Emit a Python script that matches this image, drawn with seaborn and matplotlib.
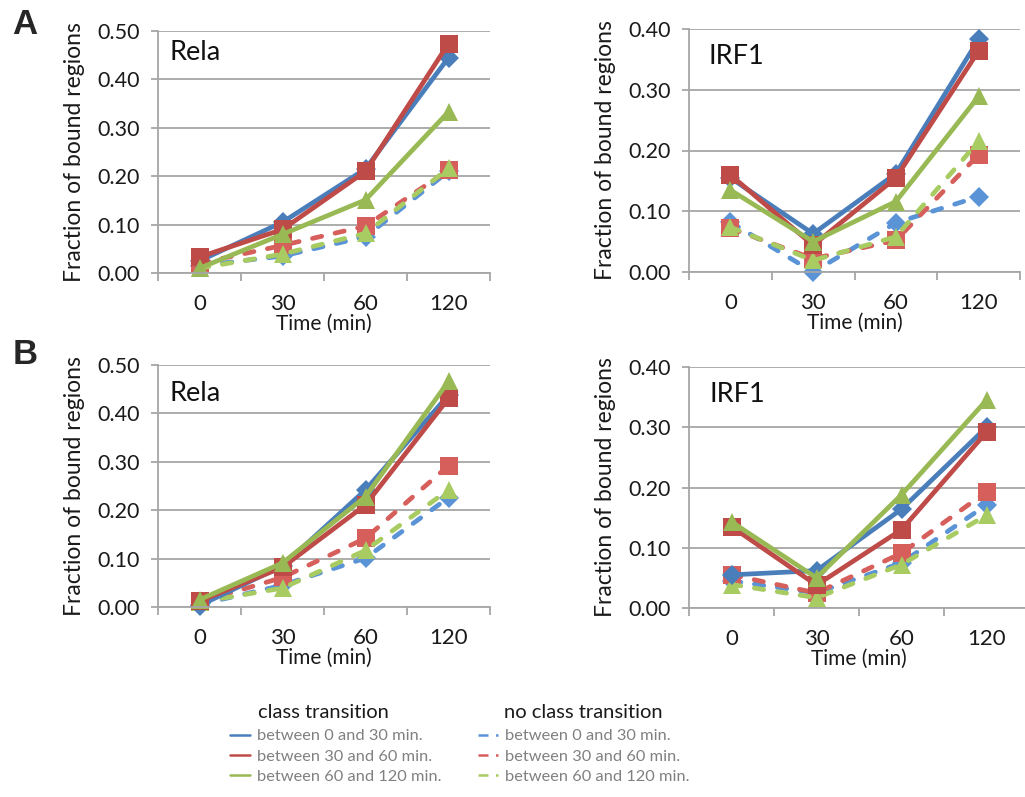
import matplotlib
matplotlib.use("Agg")
import matplotlib.pyplot as plt
from matplotlib.lines import Line2D
import seaborn as sns

# ---------------- data ----------------
times = ["0", "30", "60", "120"]

# Panel A - Rela
a_rela_c_0_30 = [0.025, 0.105, 0.215, 0.445]
a_rela_c_30_60 = [0.033, 0.090, 0.210, 0.474]
a_rela_c_60_120 = [0.010, 0.080, 0.151, 0.333]
a_rela_nc_0_30 = [0.015, 0.035, 0.075, 0.210]
a_rela_nc_30_60 = [0.020, 0.057, 0.097, 0.213]
a_rela_nc_60_120 = [0.010, 0.039, 0.082, 0.216]

# Panel A - IRF1
a_irf_c_0_30 = [0.155, 0.063, 0.162, 0.383]
a_irf_c_30_60 = [0.160, 0.044, 0.155, 0.364]
a_irf_c_60_120 = [0.135, 0.050, 0.116, 0.289]
a_irf_nc_0_30 = [0.082, 0.000, 0.081, 0.124]
a_irf_nc_30_60 = [0.072, 0.022, 0.052, 0.193]
a_irf_nc_60_120 = [0.074, 0.019, 0.058, 0.215]

# Panel B - Rela
b_rela_c_0_30 = [0.003, 0.085, 0.242, 0.438]
b_rela_c_30_60 = [0.012, 0.082, 0.211, 0.431]
b_rela_c_60_120 = [0.015, 0.091, 0.228, 0.466]
b_rela_nc_0_30 = [0.005, 0.045, 0.101, 0.226]
b_rela_nc_30_60 = [0.010, 0.061, 0.142, 0.292]
b_rela_nc_60_120 = [0.010, 0.039, 0.117, 0.242]

# Panel B - IRF1
b_irf_c_0_30 = [0.055, 0.062, 0.164, 0.300]
b_irf_c_30_60 = [0.135, 0.038, 0.130, 0.292]
b_irf_c_60_120 = [0.143, 0.050, 0.188, 0.345]
b_irf_nc_0_30 = [0.045, 0.025, 0.075, 0.171]
b_irf_nc_30_60 = [0.055, 0.025, 0.091, 0.193]
b_irf_nc_60_120 = [0.039, 0.017, 0.072, 0.154]

legend_labels = ["between 0 and 30 min.", "between 30 and 60 min.", "between 60 and 120 min."]

# ---------------- style ----------------
sns.set_theme(style="white")
plt.rcParams["font.family"] = ["Lato", "DejaVu Sans"]

W, H = 1025, 797
fig = plt.figure(figsize=(W / 100, H / 100), dpi=100)

BLUE, RED, GREEN = "#4A7EBB", "#BE4B48", "#98B954"
LBLUE, LRED, LGREEN = "#5A93D6", "#D65E5B", "#A8CB62"
GRID = "#A6A6A6"
TXT = "#1a1a1a"

# order of drawing: dashed (no class transition) first, then solid
styles = [
    (LBLUE, "D", 9.8, "dash"), (LRED, "s", 13.5, "dash"), (LGREEN, "^", 13.5, "dash"),
    (BLUE, "D", 9.8, "solid"), (RED, "s", 13.5, "solid"), (GREEN, "^", 13.5, "solid"),
]
LW = 3.4


def px_axes(l, t, r, b):
    return fig.add_axes([l / W, 1 - b / H, (r - l) / W, (b - t) / H])


def panel(ax, vals, ymax, name, name_pos):
    for v, (col, mk, ms, ls) in zip(vals, styles):
        sns.pointplot(x=times, y=v, order=times, color=col, marker=mk,
                      errorbar=None, markersize=ms, linewidth=LW,
                      markeredgewidth=0, clip_on=False, ax=ax)
        line = ax.lines[-1]
        line.set_linewidth(LW)
        line.set_markersize(ms)
        line.set_markeredgewidth(0)
        line.set_solid_capstyle("round")
        if ls == "dash":
            line.set_linestyle((0, (2.0, 2.9)))
            line.set_dash_capstyle("round")
    ax.set_xlim(-0.5, 3.5)
    ax.set_ylim(0, ymax)
    ax.set_yticks([i / 10 for i in range(int(round(ymax * 10)) + 1)])
    ax.yaxis.set_major_formatter(matplotlib.ticker.FormatStrFormatter("%.2f"))
    ax.yaxis.grid(True, color=GRID, linewidth=1.3)
    ax.xaxis.grid(False)
    ax.set_axisbelow(True)
    for s in ["top", "right"]:
        ax.spines[s].set_visible(False)
    for s in ["left", "bottom"]:
        ax.spines[s].set_color(GRID)
        ax.spines[s].set_linewidth(1.3)
    ax.tick_params(axis="y", which="major", length=5, width=1.3, color=GRID,
                   labelsize=15.5, pad=8, labelcolor=TXT, left=True)
    ax.tick_params(axis="x", which="major", length=0, labelsize=16, pad=15,
                   labelcolor=TXT)
    ax.set_xticks([-0.5, 0.5, 1.5, 2.5, 3.5], minor=True)
    ax.tick_params(axis="x", which="minor", length=6, width=1.3, color=GRID,
                   direction="out", bottom=True)
    ax.set_xlabel("Time (min)", fontsize=15, labelpad=0, color=TXT)
    ax.set_ylabel("Fraction of bound regions", fontsize=16.5, labelpad=9, color=TXT)
    ax.text(name_pos[0], name_pos[1], name, transform=ax.transAxes, fontsize=19.5,
            va="center", ha="left", color="#111111")


axA1 = px_axes(158, 31, 490, 273)
axA2 = px_axes(689, 29, 1020, 272)
axB1 = px_axes(158, 365, 490, 607)
axB2 = px_axes(689, 367, 1029, 608)

panel(axA1, [a_rela_nc_0_30, a_rela_nc_30_60, a_rela_nc_60_120,
             a_rela_c_0_30, a_rela_c_30_60, a_rela_c_60_120], 0.5, "Rela", (0.036, 0.913))
panel(axA2, [a_irf_nc_0_30, a_irf_nc_30_60, a_irf_nc_60_120,
             a_irf_c_0_30, a_irf_c_30_60, a_irf_c_60_120], 0.4, "IRF1", (0.06, 0.885))
panel(axB1, [b_rela_nc_0_30, b_rela_nc_30_60, b_rela_nc_60_120,
             b_rela_c_0_30, b_rela_c_30_60, b_rela_c_60_120], 0.5, "Rela", (0.036, 0.884))
panel(axB2, [b_irf_nc_0_30, b_irf_nc_30_60, b_irf_nc_60_120,
             b_irf_c_0_30, b_irf_c_30_60, b_irf_c_60_120], 0.4, "IRF1", (0.06, 0.884))

# panel letters
fig.text(25 / W, 1 - 25 / H, "A", fontsize=25, fontweight="bold",
         family=["Liberation Sans", "DejaVu Sans"], ha="center", va="center")
fig.text(25 / W, 1 - 355 / H, "B", fontsize=25, fontweight="bold",
         family=["Liberation Sans", "DejaVu Sans"], ha="center", va="center")

# legend
fig.text(323 / W, 1 - 712 / H, "class transition", fontsize=14.5, ha="center",
         va="center", color=TXT)
fig.text(583 / W, 1 - 712 / H, "no class transition", fontsize=14.5, ha="center",
         va="center", color=TXT)

solid_h = [Line2D([], [], color=c, lw=1.8, ls="-") for c in (BLUE, RED, GREEN)]
dash_h = [Line2D([], [], color=c, lw=1.8, ls=(0, (4, 3))) for c in (LBLUE, LRED, LGREEN)]
for handles, x0 in ((solid_h, 230), (dash_h, 478)):
    fig.legend(handles, legend_labels, loc="upper left",
               bbox_to_anchor=(x0 / W, 1 - 729 / H), frameon=False, fontsize=11.8,
               handlelength=1.25, handletextpad=0.4, labelspacing=0.35,
               borderpad=0, borderaxespad=0, labelcolor="#808080")

fig.savefig("out.png", dpi=100)
